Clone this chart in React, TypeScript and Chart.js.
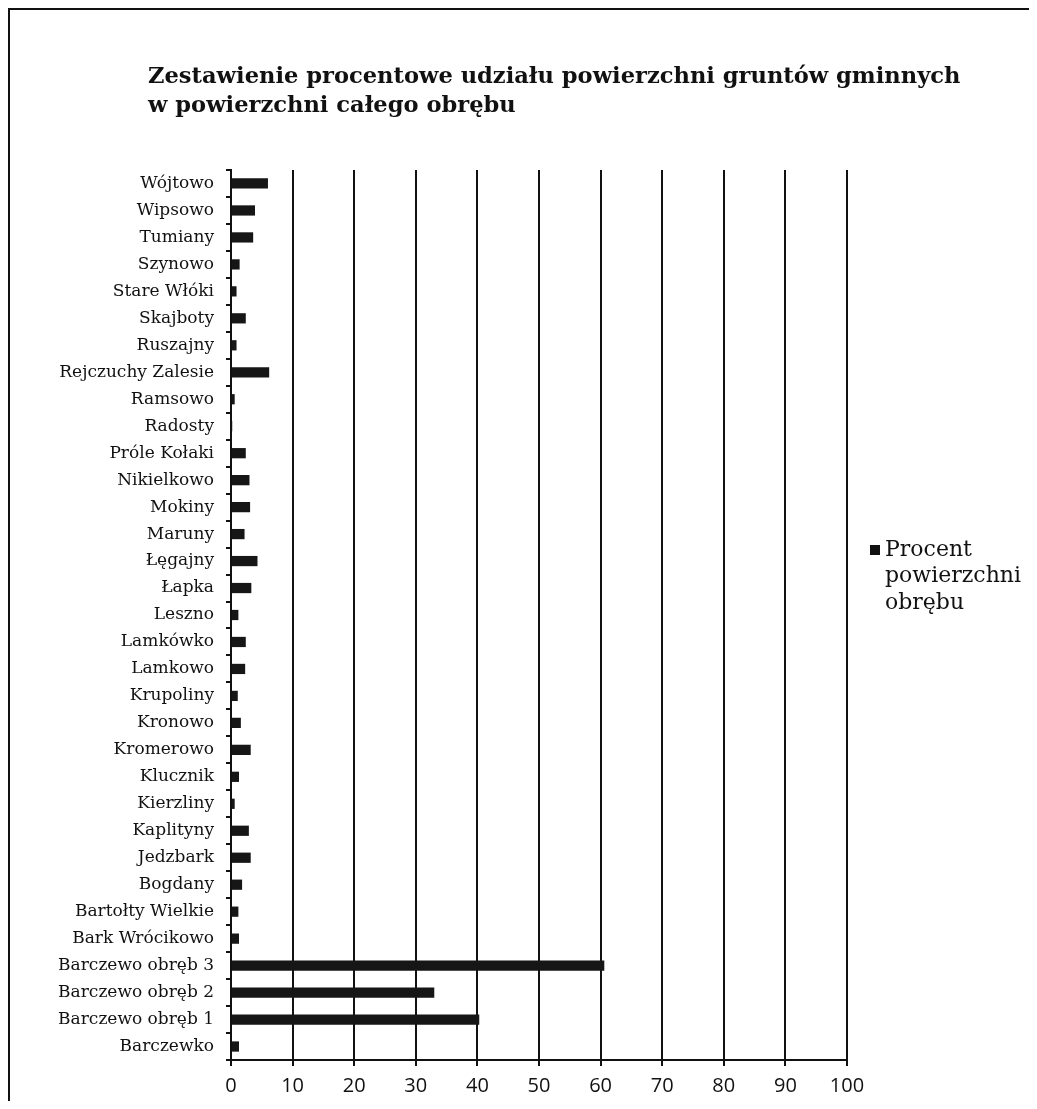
import React, { useEffect, useRef } from "react";
import { Chart, registerables } from "chart.js";

Chart.register(...registerables);

const TITLE_LINES = [
  "Zestawienie procentowe udziału powierzchni gruntów gminnych",
  "w powierzchni całego obrębu",
];

const CATEGORIES = [
  "Wójtowo",
  "Wipsowo",
  "Tumiany",
  "Szynowo",
  "Stare Włóki",
  "Skajboty",
  "Ruszajny",
  "Rejczuchy Zalesie",
  "Ramsowo",
  "Radosty",
  "Próle Kołaki",
  "Nikielkowo",
  "Mokiny",
  "Maruny",
  "Łęgajny",
  "Łapka",
  "Leszno",
  "Lamkówko",
  "Lamkowo",
  "Krupoliny",
  "Kronowo",
  "Kromerowo",
  "Klucznik",
  "Kierzliny",
  "Kaplityny",
  "Jedzbark",
  "Bogdany",
  "Bartołty Wielkie",
  "Bark Wrócikowo",
  "Barczewo obręb 3",
  "Barczewo obręb 2",
  "Barczewo obręb 1",
  "Barczewko",
];

const PERCENT_VALUES = [
  6.0, 3.9, 3.6, 1.4, 0.9, 2.4, 0.9, 6.2, 0.6, 0.2, 2.4, 3.0, 3.1, 2.2, 4.3,
  3.3, 1.2, 2.4, 2.3, 1.1, 1.6, 3.2, 1.3, 0.6, 2.9, 3.2, 1.8, 1.2, 1.3, 60.6,
  33.0, 40.3, 1.3,
];

const SERIES_LABEL_LINES = ["Procent", "powierzchni", "obrębu"];

const X_MIN = 0;
const X_MAX = 100;
const X_STEP = 10;

const SERIF = "'DejaVu Serif', 'Liberation Serif', serif";

export default function App() {
  const canvasRef = useRef<HTMLCanvasElement | null>(null);

  useEffect(() => {
    const canvas = canvasRef.current;
    if (!canvas) return;

    const overlay = {
      id: "overlay",
      afterDraw(chart: any) {
        const ctx = chart.ctx;
        ctx.save();
        // title
        ctx.fillStyle = "#111";
        ctx.textBaseline = "middle";
        ctx.textAlign = "left";
        ctx.font = `bold 100px ${SERIF}`;
        const w = ctx.measureText(TITLE_LINES[0]).width;
        const size = Math.min(26, (100 * 813) / w);
        ctx.font = `bold ${size}px ${SERIF}`;
        ctx.fillText(TITLE_LINES[0], 138, 67);
        ctx.fillText(TITLE_LINES[1], 138, 96);

        // legend
        const lx = 860;
        const ly = 540;
        ctx.fillStyle = "#111";
        ctx.fillRect(lx, ly - 5, 10, 10);
        ctx.font = `22px ${SERIF}`;
        SERIES_LABEL_LINES.forEach((t, i) => {
          ctx.fillText(t, lx + 15, ly + i * 26.5);
        });
        ctx.restore();
      },
    };

    const chart = new Chart(canvas, {
      type: "bar",
      data: {
        labels: CATEGORIES,
        datasets: [
          {
            label: SERIES_LABEL_LINES.join(" "),
            data: PERCENT_VALUES,
            backgroundColor: "#161616",
            borderWidth: 0,
            barPercentage: 0.38,
            categoryPercentage: 1,
          },
        ],
      },
      options: {
        indexAxis: "y",
        animation: false,
        responsive: false,
        maintainAspectRatio: false,
        layout: { padding: { top: 160, right: 182, bottom: 0, left: 0 } },
        plugins: {
          legend: { display: false },
          title: { display: false },
          tooltip: { enabled: false },
        },
        scales: {
          x: {
            min: X_MIN,
            max: X_MAX,
            ticks: {
              stepSize: X_STEP,
              color: "#111",
              font: { family: "'Open Sans', sans-serif", size: 20 },
              padding: 8,
            },
            grid: {
              color: "#111",
              lineWidth: 2,
              tickLength: 6,
              drawOnChartArea: true,
            },
            border: { color: "#111", width: 2 },
            afterFit(scale: any) {
              scale.height = 41;
            },
          },
          y: {
            ticks: {
              color: "#111",
              font: { family: SERIF, size: 17 },
              padding: 12,
              autoSkip: false,
            },
            grid: {
              drawOnChartArea: false,
              color: "#111",
              lineWidth: 2,
              tickLength: 5,
              offset: true,
            },
            border: { color: "#111", width: 2 },
            afterFit(scale: any) {
              scale.width = 221;
            },
          },
        },
      },
      plugins: [overlay],
    });

    return () => chart.destroy();
  }, []);

  return (
    <div
      style={{
        position: "relative",
        width: 1021,
        height: 1093,
        borderTop: "2px solid #111",
        borderLeft: "2px solid #111",
        boxSizing: "border-box",
        background: "#fff",
      }}
    >
      <canvas
        ref={canvasRef}
        width={1019}
        height={1091}
        style={{ display: "block" }}
      />
    </div>
  );
}
